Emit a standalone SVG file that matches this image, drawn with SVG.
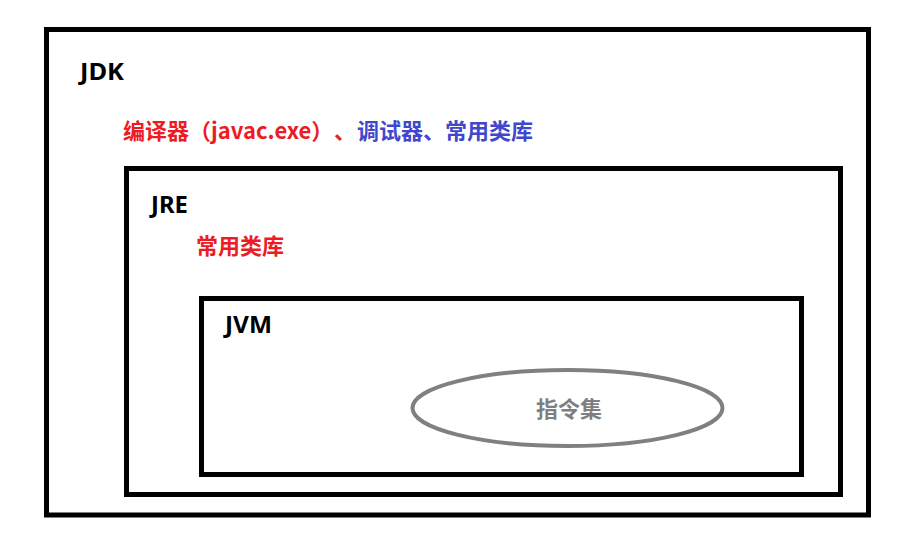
<svg xmlns="http://www.w3.org/2000/svg" width="911" height="544" viewBox="0 0 911 544">
<style>
.box{fill:none;stroke:#000;stroke-width:5}
.lbl{font-family:"Noto Sans","Noto Sans CJK SC",sans-serif;font-weight:bold;font-size:23px;fill:#000}
.cn{font-family:"Noto Sans CJK SC","Noto Sans",sans-serif;font-weight:bold;font-size:22px}
.red{fill:#ed1c24}
.blue{fill:#3f48cc}
</style>
<rect width="911" height="544" fill="#fff"/>
<g id="jdk">
<rect class="box" x="46.5" y="29.5" width="822" height="485.5"/>
<text class="lbl" x="80" y="80" textLength="44" lengthAdjust="spacingAndGlyphs">JDK</text>
<text class="cn" y="139"><tspan class="red" x="123">编译器（javac.exe）</tspan><tspan class="red" x="334">、</tspan><tspan class="blue" x="357">调试器、常用类库</tspan></text>
</g>
<g id="jre">
<rect class="box" x="126.5" y="168.5" width="714" height="326"/>
<text class="lbl" x="151" y="213" textLength="37" lengthAdjust="spacingAndGlyphs">JRE</text>
<text class="cn red" x="196" y="254">常用类库</text>
</g>
<g id="jvm">
<rect class="box" x="201.5" y="298.5" width="600" height="176"/>
<text class="lbl" x="225" y="333" textLength="47" lengthAdjust="spacingAndGlyphs">JVM</text>
</g>
<g id="instr">
<ellipse cx="567.5" cy="408" rx="155" ry="38" fill="none" stroke="#808080" stroke-width="4"/>
<text class="cn" x="569" y="417" text-anchor="middle" fill="#7f7f7f">指令集</text>
</g>
<g id="connectors"></g>
</svg>
